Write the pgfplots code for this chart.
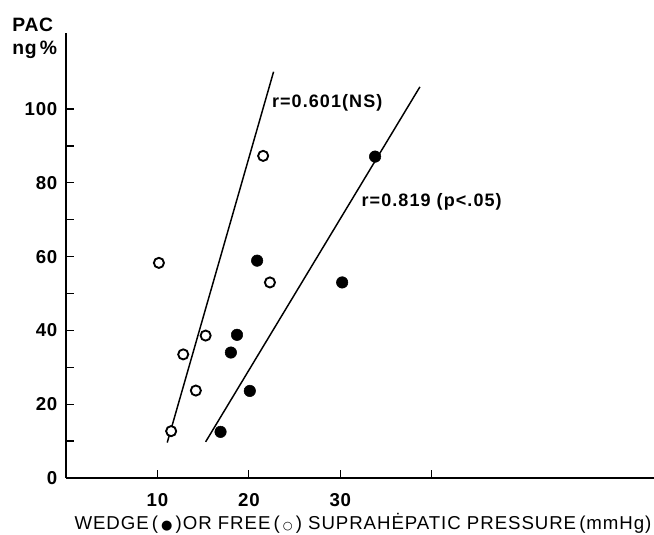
\documentclass[border=0pt]{standalone}
\usepackage{fontspec}
\setmainfont{Liberation Sans}
\newfontfamily\sym{DejaVu Sans}
\usepackage{pgfplots}
\pgfplotsset{compat=1.18}
\begin{document}
\begin{tikzpicture}
\useasboundingbox (-49.5pt,-42.75pt) rectangle (441pt,358.5pt);
\begin{axis}[
  at={(0pt,0pt)}, anchor=south west,
  scale only axis, width=441pt, height=333.75pt,
  xmin=0, xmax=64.3, ymin=0, ymax=120.6,
  axis x line=bottom, axis y line=left,
  axis line style={-, line width=1.1pt},
  xtick={10,20,30,40}, xticklabels={10,20,30,{}},
  ytick={0,20,40,60,80,100}, minor ytick={10,30,50,70,90},
  tick align=inside, major tick length=6pt, minor tick length=6pt,
  tick style={black, line width=0.9pt},
  /pgf/number format/assume math mode=true,
  ticklabel style={font=\fontsize{14}{15}\selectfont\bfseries\addfontfeature{LetterSpace=4}},
  xticklabel style={yshift=-8pt},
  yticklabel style={xshift=-3pt},
  clip=false,
]
\addplot[black, line width=1.1pt] coordinates {(11.07,9.6) (22.7,110.1)};
\addplot[black, line width=1.1pt] coordinates {(15.27,9.8) (38.7,106.0)};
\addplot[only marks, mark=*, mark size=3.8pt, mark options={fill=white, draw=black, line width=1.4pt}]
  coordinates {(10.16,58.3) (22.3,53.0) (15.27,38.6) (12.82,33.5) (14.2,23.7) (11.5,12.7) (21.56,87.3)};
\addplot[only marks, mark=*, mark size=4.3pt, mark options={fill=black, draw=black}]
  coordinates {(20.9,58.9) (18.7,38.8) (18.03,34.0) (20.1,23.6) (16.9,12.5) (30.2,53.0) (33.8,87.1)};
\node[anchor=west, inner sep=0pt, font=\fontsize{13.5}{14}\selectfont\bfseries\addfontfeature{LetterSpace=6}] at (axis cs:22.5,101.6) {r=0.601(NS)};
\node[anchor=west, inner sep=0pt, font=\fontsize{13.5}{14}\selectfont\bfseries\addfontfeature{LetterSpace=6}] at (axis cs:32.3,74.9) {r=0.819 (p<.05)};
\node[anchor=west, inner sep=0pt, font=\fontsize{14.5}{15}\selectfont\bfseries\addfontfeature{LetterSpace=4}] at (rel axis cs:-0.0918,1.018) {PAC};
\node[anchor=west, inner sep=0pt, font=\fontsize{14.5}{15}\selectfont\bfseries\addfontfeature{LetterSpace=4}] at (rel axis cs:-0.0918,0.962) {ng\,\%};
\node[anchor=north, inner sep=0pt, yshift=-26pt, font=\fontsize{14}{15}\selectfont\addfontfeature{LetterSpace=5}] at (rel axis cs:0.505,0)
  {WEDGE\,(\,{\sym\scalebox{0.7}{●}}\,)OR FREE\,(\,{\sym\scalebox{0.6}{○}}\,) SUPRAHĖPATIC PRESSURE\,(mmHg)};
\end{axis}
\end{tikzpicture}
\end{document}
